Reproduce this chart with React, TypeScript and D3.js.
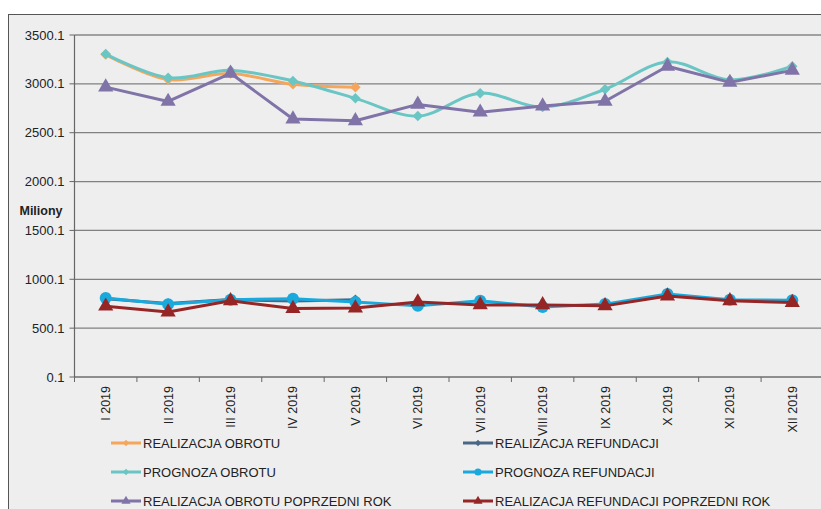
import React from 'react';
import * as d3 from 'd3';

const months = ['I 2019', 'II 2019', 'III 2019', 'IV 2019', 'V 2019', 'VI 2019', 'VII 2019', 'VIII 2019', 'IX 2019', 'X 2019', 'XI 2019', 'XII 2019'];
const yTicks = [0.1, 500.1, 1000.1, 1500.1, 2000.1, 2500.1, 3000.1, 3500.1];

const realizacjaObrotu = [3300, 3045, 3105, 2995, 2965];
const prognozaObrotu = [3305, 3062, 3138, 3030, 2852, 2670, 2905, 2762, 2945, 3225, 3040, 3180];
const obrotPoprzedni = [2967, 2820, 3108, 2640, 2622, 2790, 2710, 2773, 2822, 3180, 3015, 3138];
const realizacjaRefundacji = [800, 752, 792, 778, 790];
const prognozaRefundacji = [808, 745, 790, 802, 768, 728, 780, 716, 746, 850, 790, 785];
const refundacjaPoprzedni = [725, 665, 780, 700, 706, 768, 738, 738, 728, 828, 780, 762];

type Series = { name: string; values: number[]; color: string; marker: 'diamond' | 'circle' | 'triangle'; smooth: boolean };

// drawing order: later series sit on top
const series: Series[] = [
  { name: 'REALIZACJA OBROTU', values: realizacjaObrotu, color: '#f5a65b', marker: 'diamond', smooth: true },
  { name: 'REALIZACJA REFUNDACJI', values: realizacjaRefundacji, color: '#4a6785', marker: 'diamond', smooth: false },
  { name: 'PROGNOZA OBROTU', values: prognozaObrotu, color: '#6ac6c4', marker: 'diamond', smooth: true },
  { name: 'PROGNOZA REFUNDACJI', values: prognozaRefundacji, color: '#1aa9dc', marker: 'circle', smooth: false },
  { name: 'REALIZACJA OBROTU POPRZEDNI ROK', values: obrotPoprzedni, color: '#8073a8', marker: 'triangle', smooth: false },
  { name: 'REALIZACJA REFUNDACJI POPRZEDNI ROK', values: refundacjaPoprzedni, color: '#962626', marker: 'triangle', smooth: false },
];

const W = 821;
const H = 509;
const left = 74.5;
const right = 823.5;
const top = 35;
const bottom = 377;

const x = d3.scaleBand<string>().domain(months).range([left, right]);
const cx = (i: number) => (x(months[i]) as number) + x.bandwidth() / 2;
const y = d3.scaleLinear().domain([0.1, 3500.1]).range([bottom, top]);

const Marker = ({ kind, px, py, color, s = 1 }: { kind: string; px: number; py: number; color: string; s?: number }) => {
  if (kind === 'circle') return <circle cx={px} cy={py} r={6 * s} fill={color} />;
  if (kind === 'diamond') {
    return <path d={d3.symbol(d3.symbolSquare, 55 * s * s)() as string} transform={`translate(${px},${py}) rotate(45)`} fill={color} />;
  }
  return <path d={d3.symbol(d3.symbolTriangle, 100 * s * s)() as string} transform={`translate(${px},${py})`} fill={color} />;
};

const App: React.FC = () => {
  const font = 'Liberation Sans, Arial, sans-serif';
  return (
    <svg width={W} height={H} style={{ position: 'absolute', left: 0, top: 0 }} fontFamily={font}>
      <rect x={0} y={0} width={W} height={H} fill="#fff" />
      <rect x={8.5} y={14.5} width={W + 10} height={H + 10} fill="#eeeeee" stroke="#555" strokeWidth={1} />

      {yTicks.map(t => (
        <g key={t}>
          <line x1={left} x2={right} y1={y(t)} y2={y(t)} stroke={t === 3500.1 ? '#a0a0a0' : '#808080'} strokeWidth={t === 3500.1 ? 2 : 1.2} />
          <line x1={left - 5} x2={left} y1={y(t)} y2={y(t)} stroke="#666" />
          <text x={left - 10} y={y(t) + 4.5} textAnchor="end" fontSize={13} fill="#222">{t.toFixed(1)}</text>
        </g>
      ))}
      <text x={41} y={215} textAnchor="middle" fontSize={12.5} fontWeight="bold" fill="#222">Miliony</text>

      <line x1={left} x2={left} y1={top} y2={bottom} stroke="#666" strokeWidth={1.2} />
      <line x1={left} x2={right} y1={bottom} y2={bottom} stroke="#666" strokeWidth={1.2} />
      {months.map((m, i) => (
        <g key={m}>
          <line x1={x(m) as number} x2={x(m) as number} y1={bottom} y2={bottom + 5} stroke="#666" />
          <text transform={`translate(${cx(i) + 4.5},${bottom + 9}) rotate(-90)`} textAnchor="end" fontSize={12.5} fill="#222">{m}</text>
        </g>
      ))}

      {series.map(s => {
        const line = d3.line<number>()
          .x((_, i) => cx(i))
          .y(v => y(v))
          .curve(s.smooth ? d3.curveCatmullRom.alpha(0.5) : d3.curveLinear);
        return (
          <g key={s.name}>
            <path d={line(s.values) as string} fill="none" stroke={s.color} strokeWidth={3} strokeLinejoin="round" />
            {s.values.map((v, i) => (
              <Marker key={i} kind={s.marker} px={cx(i)} py={y(v)} color={s.color} />
            ))}
          </g>
        );
      })}

      {series.map((s, k) => {
        const c = k % 2;
        const r = Math.floor(k / 2);
        const lx = c === 0 ? 111 : 463;
        const ly = 443 + r * 29;
        return (
          <g key={'lg' + s.name}>
            <line x1={lx} x2={lx + 30} y1={ly} y2={ly} stroke={s.color} strokeWidth={3} />
            <Marker kind={s.marker} px={lx + 15} py={ly} color={s.color} s={0.6} />
            <text x={lx + 32} y={ly + 4.5} fontSize={13} fill="#222">{s.name}</text>
          </g>
        );
      })}
    </svg>
  );
};

export default App;
